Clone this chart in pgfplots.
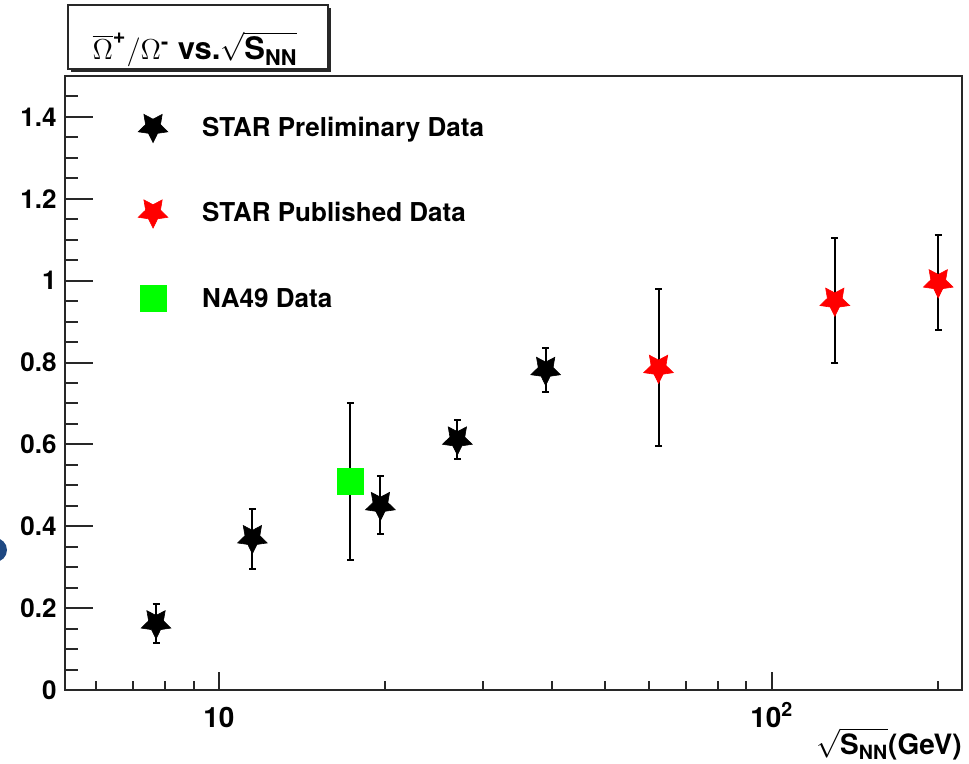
\documentclass[border=0pt]{standalone}
\usepackage{amsmath}
\usepackage{fontspec}
\setmainfont{TeX Gyre Heros}
\usepackage{pgfplots}
\pgfplotsset{compat=1.18}

\pgfdeclareplotmark{dstar}{%
  \pgfpathmoveto{\pgfpointpolar{-90}{\pgfplotmarksize}}%
  \pgfpathlineto{\pgfpointpolar{-54}{0.5\pgfplotmarksize}}%
  \pgfpathlineto{\pgfpointpolar{-18}{\pgfplotmarksize}}%
  \pgfpathlineto{\pgfpointpolar{18}{0.5\pgfplotmarksize}}%
  \pgfpathlineto{\pgfpointpolar{54}{\pgfplotmarksize}}%
  \pgfpathlineto{\pgfpointpolar{90}{0.5\pgfplotmarksize}}%
  \pgfpathlineto{\pgfpointpolar{126}{\pgfplotmarksize}}%
  \pgfpathlineto{\pgfpointpolar{162}{0.5\pgfplotmarksize}}%
  \pgfpathlineto{\pgfpointpolar{198}{\pgfplotmarksize}}%
  \pgfpathlineto{\pgfpointpolar{234}{0.5\pgfplotmarksize}}%
  \pgfpathclose
  \pgfusepathqfillstroke}

\definecolor{rootgreen}{RGB}{0,255,0}
\definecolor{rootred}{RGB}{255,0,0}
\definecolor{blob}{RGB}{30,72,130}
\definecolor{axisgray}{RGB}{40,40,40}

\begin{document}
\begin{tikzpicture}
\useasboundingbox (-32.5pt,-37pt) rectangle (452pt,345pt);
\fill[blob] (-35pt,70pt) circle (6pt);
\begin{axis}[
  at={(0pt,0pt)}, anchor=south west,
  scale only axis, width=448.5pt, height=307pt,
  xmode=log, xmin=5.27, xmax=220.8, ymin=0, ymax=1.5,
  axis line style={line width=1pt, axisgray},
  xtick={10,100}, xticklabels={10,10\textsuperscript{2}},
  minor xtick={6,7,8,9,20,30,40,50,60,70,80,90,200},
  ytick={0,0.2,0.4,0.6,0.8,1,1.2,1.4},
  minor ytick={0.05,0.1,0.15,0.25,0.3,0.35,0.45,0.5,0.55,0.65,0.7,0.75,0.85,0.9,0.95,1.05,1.1,1.15,1.25,1.3,1.35,1.45},
  tick pos=left,
  tick align=inside,
  tick style={line width=1pt, axisgray},
  major tick length=14pt, minor tick length=6.5pt,
  every major x tick/.append style={/pgfplots/major tick length=9pt},
  every minor x tick/.append style={/pgfplots/minor tick length=4.5pt},
  /pgf/number format/assume math mode=true,
  xticklabel style={font=\fontsize{14}{14}\selectfont\bfseries, anchor=north, inner sep=0pt, text height=10pt, text depth=0pt, yshift=-8.5pt},
  yticklabel style={font=\fontsize{13}{13}\selectfont\bfseries, anchor=east, inner sep=0pt, xshift=-4pt},
  xlabel={$\sqrt{\smash[b]{\textbf{S}_{\textbf{NN}}}}$\textbf{(GeV)}},
  xlabel style={at={(axis description cs:1,0)}, anchor=base east, inner sep=0pt, yshift=-32.5pt, font=\fontsize{14}{14}\selectfont\bfseries},
  error bars/y dir=both, error bars/y explicit,
  error bars/error bar style={line width=1pt, black},
  error bars/error mark options={rotate=90, mark size=1.75pt, line width=1pt, black},
  legend style={draw=none, fill=none, at={(axis description cs:0.0803,0.9430)}, anchor=north west, inner sep=0pt, outer sep=0pt, row sep=26.75pt, column sep=16.6pt, nodes={inner sep=0pt, text height=9.5pt, text depth=0pt}, font=\fontsize{13}{13}\selectfont\bfseries},
  legend cell align=left,
  legend image code/.code={\path[draw=none,fill=none] (-8pt,-8pt) rectangle (8pt,8pt); \draw[#1] plot coordinates {(0pt,0pt)};},
]
\addplot[only marks, mark=dstar, mark size=7.8pt, mark options={fill=black, draw=black, line width=0.3pt}]
  table[x=x, y=y, y error plus=ep, y error minus=em] {
x y ep em
7.7 0.163 0.047 0.049
11.5 0.371 0.071 0.076
19.6 0.452 0.071 0.071
27 0.612 0.048 0.048
39 0.782 0.054 0.054
};
\addlegendentry{STAR Preliminary Data}
\addplot[only marks, mark=dstar, mark size=7.8pt, mark options={fill=rootred, draw=rootred, line width=0.3pt}]
  table[x=x, y=y, y error plus=ep, y error minus=em] {
x y ep em
62.4 0.787 0.193 0.192
130 0.951 0.152 0.152
200 0.996 0.116 0.116
};
\addlegendentry{STAR Published Data}
\addplot[only marks, mark=square*, mark size=6.5pt, mark options={fill=rootgreen, draw=rootgreen, line width=0.1pt}]
  table[x=x, y=y, y error plus=ep, y error minus=em] {
x y ep em
17.3 0.511 0.19 0.193
};
\addlegendentry{NA49 Data}
\end{axis}
\fill[axisgray] (2.85pt,309pt) rectangle (133pt,340.85pt);
\filldraw[fill=white, draw=axisgray, line width=0.8pt] (1.35pt,310.5pt) rectangle (131.5pt,342.35pt);
\node[anchor=base, font=\fontsize{15.5}{15.5}\selectfont, inner sep=0pt] at (65pt,315pt) {$\overline{\Omega}^{\textbf{+}}/\Omega^{\textbf{-}}$ \textbf{vs.}$\sqrt{\smash[b]{\textbf{S}_{\textbf{NN}}}}$};
\end{tikzpicture}
\end{document}
